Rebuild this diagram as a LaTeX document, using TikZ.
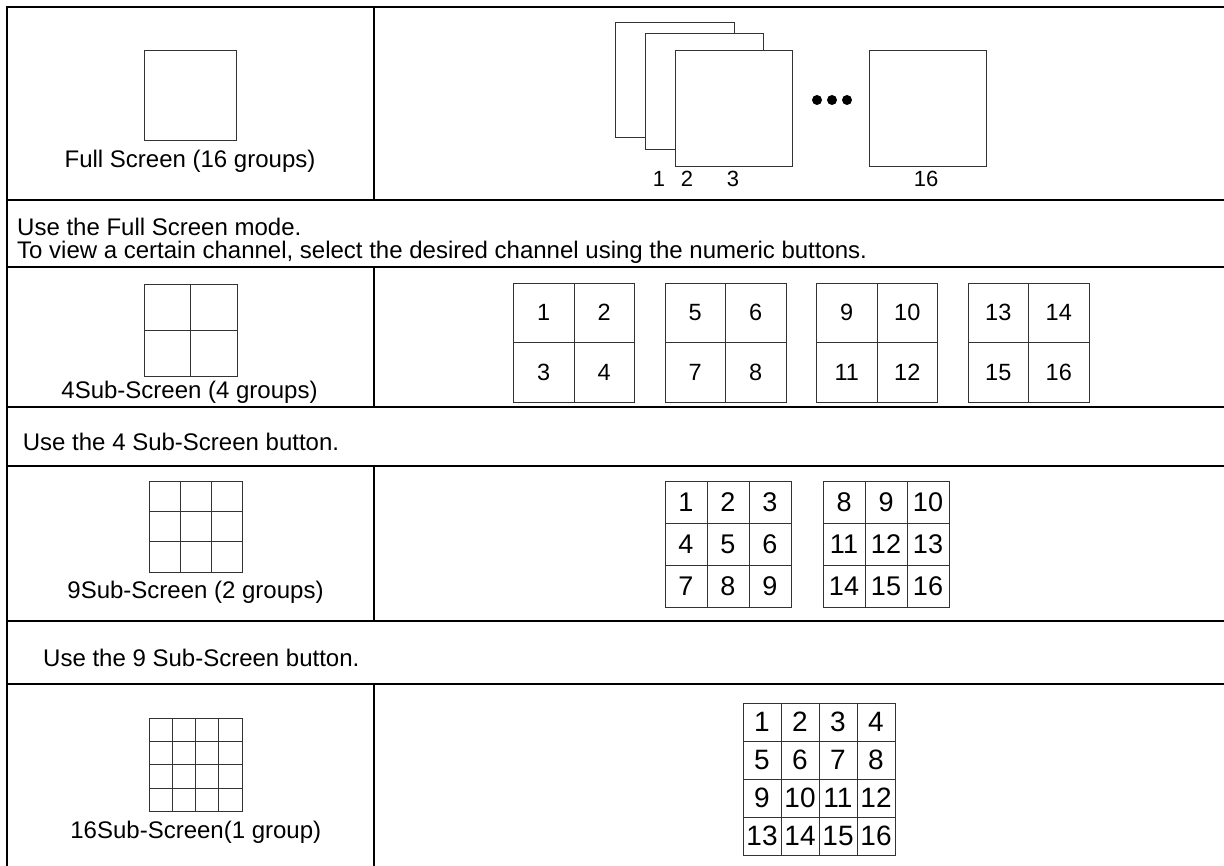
\documentclass[tikz,border=0pt]{standalone}
\usepackage{fontspec}
\setmainfont{Liberation Sans}
\begin{document}
\begin{tikzpicture}[x=1pt,y=-1pt,
  tbl/.style={line width=2pt,black},
  scr/.style={draw=black!80,line width=0.9pt},
  lbl/.style={inner sep=0pt,font=\fontsize{24}{24}\selectfont},
  numlbl/.style={inner sep=0pt,font=\fontsize{22}{22}\selectfont},
  sheet/.style={scr,fill=white,inner sep=0pt,anchor=north west},
  dotnode/.style={circle,fill=black,inner sep=0pt,minimum size=10pt},
  cellA/.style={scr,inner sep=0pt,minimum width=60.5pt,minimum height=59.5pt,font=\fontsize{23.5}{23.5}\selectfont},
  cellB/.style={scr,inner sep=0pt,minimum width=42pt,minimum height=42pt,font=\fontsize{27}{27}\selectfont},
  cellC/.style={scr,inner sep=0pt,minimum width=38pt,minimum height=38pt,font=\fontsize{28}{28}\selectfont}]
\useasboundingbox (0,0) rectangle (1224,866);
\fill[white] (0,0) rectangle (1224,866);
% table rules
\foreach \yy in {6.7,200,267.5,406.7,466,621,684}
  \draw[tbl] (6.7,\yy) -- (1224,\yy);
\draw[tbl] (6.7,5.7) -- (6.7,866);
\draw[tbl] (374,6.7) -- (374,200);
\draw[tbl] (374,267.5) -- (374,406.7);
\draw[tbl] (374,466) -- (374,621);
\draw[tbl] (374,684) -- (374,866);
% ---- row 1: full screen
\draw[scr] (144,50) rectangle (236,140);
\node[lbl,anchor=base] (tfull) at (190,168) {Full Screen (16 groups)};
\node[sheet,minimum width=119pt,minimum height=115pt] (s1) at (615,22) {};
\node[sheet,minimum width=118pt,minimum height=116pt] (s2) at (645,33) {};
\node[sheet,minimum width=117pt,minimum height=116pt] (s3) at (675,50) {};
\node[sheet,minimum width=117pt,minimum height=116pt] (s16) at (869,50) {};
\node[dotnode] (d1) at (817,100) {};
\node[dotnode] (d2) at (832,100) {};
\node[dotnode] (d3) at (847,100) {};
\node[numlbl,anchor=base] (n1) at (659,187) {1};
\node[numlbl,anchor=base] (n2) at (687,187) {2};
\node[numlbl,anchor=base] (n3) at (733,187) {3};
\node[numlbl,anchor=base] (n16) at (926,187) {16};
% ---- row 2 text
\node[lbl,anchor=base west] (t2a) at (17,236) {Use the Full Screen mode.};
\node[lbl,anchor=base west] (t2b) at (17,258.5) {To view a certain channel, select the desired channel using the numeric buttons.};
% ---- row 3: 4 sub-screen
\draw[scr] (144,284) rectangle (237,376);
\draw[scr] (190.5,284) -- (190.5,376);
\draw[scr] (144,330) -- (237,330);
\node[lbl,anchor=base] (t4) at (189.5,399) {4Sub-Screen (4 groups)};
\foreach \g/\xl in {0/513.5,1/665,2/816.5,3/968}{
  \pgfmathtruncatemacro{\a}{4*\g+1}
  \pgfmathtruncatemacro{\b}{4*\g+2}
  \pgfmathtruncatemacro{\c}{4*\g+3}
  \pgfmathtruncatemacro{\d}{4*\g+4}
  \node[cellA] (q\a) at (\xl+30.25,312.75) {\a};
  \node[cellA] (q\b) at (\xl+90.75,312.75) {\b};
  \node[cellA] (q\c) at (\xl+30.25,372.25) {\c};
  \node[cellA] (q\d) at (\xl+90.75,372.25) {\d};
}
% ---- row 4 text
\node[lbl,anchor=base west] (t4b) at (22.7,451) {Use the 4 Sub-Screen button.};
% ---- row 5: 9 sub-screen
\draw[scr] (149,481) rectangle (242,572);
\draw[scr] (180,481) -- (180,572);
\draw[scr] (211,481) -- (211,572);
\draw[scr] (149,511.3) -- (242,511.3);
\draw[scr] (149,541.7) -- (242,541.7);
\node[lbl,anchor=base] (t9) at (195.5,598) {9Sub-Screen (2 groups)};
\foreach \n [count=\i from 0] in {1,...,9}{
  \pgfmathsetmacro{\cx}{665+21+42*mod(\i,3)}
  \pgfmathsetmacro{\cy}{481+21+42*floor(\i/3)}
  \node[cellB] (na\n) at (\cx,\cy) {\n};
}
\foreach \n [count=\i from 0] in {8,...,16}{
  \pgfmathsetmacro{\cx}{823+21+42*mod(\i,3)}
  \pgfmathsetmacro{\cy}{481+21+42*floor(\i/3)}
  \node[cellB] (nb\n) at (\cx,\cy) {\n};
}
% ---- row 6 text
\node[lbl,anchor=base west] (t9b) at (43,666) {Use the 9 Sub-Screen button.};
% ---- row 7: 16 sub-screen
\draw[scr] (149,718.3) rectangle (242,811.3);
\foreach \k in {1,2,3}{
  \draw[scr] (149+23.25*\k,718.3) -- (149+23.25*\k,811.3);
  \draw[scr] (149,718.3+23.25*\k) -- (242,718.3+23.25*\k);
}
\node[lbl,anchor=base] (t16) at (195.8,838) {16Sub-Screen(1 group)};
\foreach \n [count=\i from 0] in {1,...,16}{
  \pgfmathsetmacro{\cx}{743+19+38*mod(\i,4)}
  \pgfmathsetmacro{\cy}{703+19+38*floor(\i/4)}
  \node[cellC] (nc\n) at (\cx,\cy) {\n};
}
\end{tikzpicture}
\end{document}
